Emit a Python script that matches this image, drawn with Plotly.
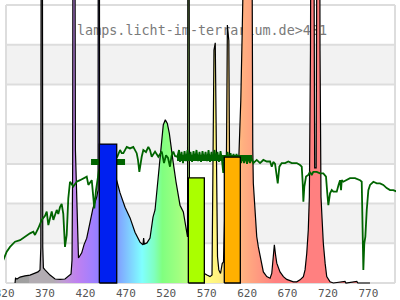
import plotly.graph_objects as go

# ---------------- data ----------------
lamp_wl = [332.9, 333.5, 335.3, 339.1, 345.2, 351.4, 357.6, 361.3, 363.8, 364.8, 365.4, 366.6, 367.2, 368.0,
           370.0, 376.2, 382.4, 388.5, 394.7, 398.4, 402.2, 403.4, 404.2, 404.8, 406.5, 407.6, 408.8, 410.0,
           411.4, 415.4, 418.2, 421.6, 423.8, 425.7, 429.4, 434.0, 435.6, 436.0, 437.0, 437.6, 443.0, 448.0,
           453.0, 457.8, 459.1, 462.8, 469.0, 475.2, 481.3, 487.5, 491.2, 492.0, 492.8, 496.1, 499.9, 503.6,
           506.1, 508.5, 511.0, 512.3, 514.4, 516.3, 518.8, 521.3, 523.8, 525.9, 528.7, 532.1, 534.9, 537.0,
           541.1, 543.2, 545.3, 546.3, 547.0, 548.0, 548.7, 555.6, 565.5, 567.1, 570.4, 574.1, 576.6, 578.3,
           579.0, 580.6, 582.0, 583.4, 585.0, 587.1, 589.2, 590.8, 594.5, 595.6, 597.4, 598.2, 600.1, 605.0,
           608.8, 612.2, 614.0, 615.5, 621.0, 625.5, 626.3, 627.0, 627.7, 629.8, 631.9, 633.9, 636.0, 640.1,
           644.3, 648.4, 650.5, 652.1, 653.7, 655.2, 656.7, 660.7, 664.9, 669.0, 677.2, 681.4, 685.5, 689.6,
           691.7, 693.8, 695.7, 697.0, 697.8, 698.4, 699.3, 702.2, 703.6, 705.4, 706.8, 709.6, 710.2, 710.8,
           711.4, 712.6, 714.3, 716.5, 718.5, 722.6, 726.7, 741.1, 742.3, 755.7, 757.0, 772.0]
lamp_val = [0.00, 0.12, 0.10, 0.15, 0.18, 0.20, 0.25, 0.28, 0.33, 0.90, 12.0, 12.0, 0.90, 0.38,
            0.33, 0.20, 0.10, 0.09, 0.10, 0.16, 0.23, 0.58, 3.00, 14.0, 14.0, 3.35, 2.52, 1.08,
            0.63, 0.76, 0.96, 1.13, 1.34, 1.54, 1.89, 2.17, 2.34, 14.0, 14.0, 2.60, 2.70, 2.72,
            2.68, 2.64, 2.55, 2.27, 1.91, 1.64, 1.28, 1.03, 0.96, 1.13, 0.98, 1.01, 1.13, 1.66,
            1.84, 2.34, 2.80, 3.10, 3.69, 3.98, 4.11, 4.02, 3.77, 3.40, 3.02, 2.54, 2.14, 1.96,
            1.79, 1.51, 1.26, 1.16, 14.0, 14.0, 1.08, 0.58, 0.28, 0.24, 0.20, 0.16, 0.20, 3.35,
            5.87, 6.05, 3.35, 0.66, 0.33, 0.24, 0.49, 0.53, 3.35, 6.50, 6.10, 3.35, 0.83, 1.33,
            2.59, 4.60, 6.40, 12.0, 14.0, 12.0, 4.40, 3.40, 2.51, 1.84, 1.17, 0.91, 0.66, 0.28,
            0.16, 0.12, 0.24, 0.58, 0.96, 0.71, 0.50, 0.28, 0.16, 0.09, 0.03, 0.03, 0.08, 0.16,
            0.33, 0.75, 1.34, 2.17, 3.85, 5.87, 12.0, 12.0, 2.90, 2.90, 12.0, 12.0, 5.87, 3.02,
            2.17, 1.67, 1.00, 0.50, 0.16, 0.03, 0.00, 0.04, 0.00, 0.04, 0.00, 0.00]

sun_wl = [314.3, 318.4, 322.6, 326.7, 332.9, 339.1, 345.2, 351.4, 355.5, 357.6, 361.7, 365.9, 370.0, 372.1,
          374.1, 378.3, 380.3, 384.5, 386.4, 388.5, 390.6, 392.6, 394.7, 396.8, 398.8, 400.9, 405.0, 409.2,
          413.3, 417.4, 421.6, 423.6, 427.8, 431.0, 433.1, 436.8, 443.0, 450.4, 455.4, 459.4, 462.8, 464.9,
          466.9, 471.1, 475.1, 479.2, 483.4, 485.0, 486.7, 489.6, 491.6, 494.9, 497.8, 499.9, 502.0, 506.1,
          510.2, 514.4, 517.2, 519.7, 522.2, 524.6, 526.5, 528.7, 530.8, 533.7, 535.8, 537.0, 538.9, 540.7,
          542.6, 544.4, 546.3, 548.1, 550.0, 551.9, 553.7, 555.6, 557.4, 559.3, 561.1, 563.0, 564.8, 566.7,
          568.6, 570.4, 572.3, 574.1, 576.0, 577.8, 579.6, 581.5, 583.3, 585.2, 587.1, 588.9, 590.5, 592.0,
          593.9, 595.8, 597.6, 599.5, 601.3, 603.2, 605.0, 606.9, 608.8, 610.6, 612.5, 614.3, 616.2, 618.0,
          619.9, 621.8, 623.6, 625.5, 627.7, 631.9, 636.0, 638.1, 640.1, 644.3, 648.4, 650.5, 652.4, 654.6,
          656.6, 657.9, 659.9, 662.8, 667.0, 671.0, 675.2, 681.4, 685.5, 687.6, 688.8, 689.6, 690.8, 692.9,
          695.7, 697.8, 699.9, 701.9, 706.1, 710.2, 714.3, 717.6, 719.2, 720.5, 722.6, 724.7, 726.7, 730.9,
          733.1, 735.0, 736.2, 737.1, 739.0, 743.3, 747.3, 753.5, 759.7, 761.8, 763.0, 763.8, 765.0, 766.3,
          768.0, 770.0, 772.1, 776.2, 780.4, 784.4, 788.5, 792.7, 796.8, 800.9, 805.1, 809.2]
sun_val = [0.37, 0.58, 0.79, 0.91, 1.04, 1.08, 1.17, 1.25, 1.29, 1.21, 1.38, 1.59, 1.69, 1.80,
           1.46, 1.80, 1.59, 1.84, 1.74, 1.91, 1.99, 1.74, 0.91, 1.21, 2.13, 2.55, 2.43, 2.55,
           2.59, 2.64, 2.68, 2.47, 2.59, 1.88, 2.34, 2.85, 3.05, 3.15, 3.22, 3.18, 3.35, 3.27,
           3.27, 3.43, 3.39, 3.43, 3.27, 3.10, 2.80, 3.18, 3.35, 3.30, 3.43, 3.35, 3.18, 3.31,
           3.18, 3.31, 3.02, 3.22, 3.15, 2.93, 3.20, 3.31, 3.20, 3.18, 3.35, 3.05, 3.30, 3.02,
           3.32, 3.07, 3.35, 3.10, 3.30, 3.05, 3.32, 3.10, 3.35, 3.07, 3.30, 3.05, 3.32, 3.10,
           3.30, 3.07, 3.35, 3.05, 3.30, 3.07, 3.35, 3.10, 3.30, 3.05, 3.32, 3.10, 2.77, 3.22,
           3.07, 3.30, 3.05, 3.27, 3.07, 3.25, 3.05, 3.25, 3.05, 3.22, 3.02, 3.22, 3.02, 3.20,
           3.00, 3.17, 3.02, 3.15, 3.02, 3.10, 3.02, 3.06, 3.10, 3.06, 3.06, 2.93, 3.05, 3.00,
           2.68, 2.51, 2.93, 3.02, 3.02, 3.06, 3.02, 3.02, 2.97, 2.93, 2.51, 2.05, 2.43, 2.68,
           2.72, 2.80, 2.72, 2.80, 2.80, 2.76, 2.76, 2.68, 2.26, 1.96, 2.26, 2.34, 2.30, 2.30,
           2.47, 2.59, 2.34, 2.59, 2.55, 2.59, 2.64, 2.64, 2.59, 2.55, 1.50, 0.33, 1.00, 1.17,
           1.84, 2.34, 2.47, 2.55, 2.51, 2.51, 2.47, 2.39, 2.34, 2.34, 2.30, 2.26]

bar_start = [437.2, 547.3, 591.8]
bar_end = [458.7, 567.1, 611.6]
bar_val = [3.50, 2.65, 3.17]
bar_colors = ["#0020f0", "#aaff00", "#ffb000"]

ref_start = [426.9, 533.3]
ref_end = [469.0, 626.1]
ref_val = [3.05, 3.15]

tick_vals = [320, 370, 420, 470, 520, 570, 620, 670, 720, 770]
title_text = "lamps.licht-im-terrarium.de>481"

# wavelength -> colour for the spectrum fill
grad_wl = [320, 350, 351, 380, 395, 410, 430, 445, 460, 475, 490, 505, 515, 535, 555, 570, 585, 600,
           615, 635, 655, 805]
grad_col = ["#9c9c9c", "#a0a0a0", "#b2acb2", "#b2acb2", "#c098d8", "#bf80f0", "#a080ff", "#8080ff",
            "#80a0ff", "#80d0ff", "#80ffff", "#80ffc0", "#80ff80", "#a0ff80", "#c8ff80", "#ffff80",
            "#fff080", "#ffd080", "#ffb080", "#ff9880", "#ff8080", "#ff8080"]

# ---------------- figure ----------------
G0, G1 = grad_wl[0], grad_wl[-1]
colorscale = [[(w - G0) / (G1 - G0), c] for w, c in zip(grad_wl, grad_col)]

X0, X1 = 319.25, 804.2
FL, FR = 321.7, 803.0

fig = go.Figure()

fig.add_trace(go.Scatter(x=[564.2], y=[6.33], mode="text", text=[title_text],
                         textfont=dict(family="DejaVu Sans Mono", size=13.4, color="#7a7a7a"),
                         hoverinfo="skip", showlegend=False))

fig.add_trace(go.Scatter(x=lamp_wl, y=lamp_val, mode="lines",
                         line=dict(color="black", width=1.2),
                         fill="tozeroy",
                         fillgradient=dict(type="horizontal", colorscale=colorscale, start=G0, stop=G1),
                         hoverinfo="skip", showlegend=False))

fig.add_trace(go.Scatter(x=sun_wl, y=sun_val, mode="lines",
                         line=dict(color="#006400", width=1.8),
                         hoverinfo="skip", showlegend=False))

for s, e, v in zip(ref_start, ref_end, ref_val):
    fig.add_trace(go.Scatter(x=[s, e], y=[v, v], mode="lines",
                             line=dict(color="#006400", width=6),
                             hoverinfo="skip", showlegend=False))

for s, e, v, c in zip(bar_start, bar_end, bar_val, bar_colors):
    fig.add_trace(go.Scatter(x=[s, s, e, e, s], y=[0, v, v, 0, 0], mode="lines",
                             fill="toself", fillcolor=c,
                             line=dict(color="black", width=1.3),
                             hoverinfo="skip", showlegend=False))

shapes = []
for k in (1, 3, 5):
    shapes.append(dict(type="rect", xref="x", yref="y", x0=FL, x1=FR, y0=k, y1=k + 1,
                       fillcolor="#f2f2f2", line=dict(width=0), layer="below"))
for k in range(0, 8):
    shapes.append(dict(type="line", xref="x", yref="y", x0=FL, x1=FR, y0=k, y1=k,
                       line=dict(color="#dddddd", width=2), layer="below"))
for xv in (FL, FR):
    shapes.append(dict(type="line", xref="x", yref="y", x0=xv, x1=xv, y0=0, y1=7,
                       line=dict(color="#dddddd", width=2), layer="below"))

fig.update_layout(
    width=400, height=300,
    margin=dict(l=4, r=4, t=0, b=16, pad=0),
    paper_bgcolor="white", plot_bgcolor="white",
    shapes=shapes,
    xaxis=dict(range=[X0, X1], tickvals=tick_vals, ticktext=[str(t) for t in tick_vals],
               showgrid=False, zeroline=False, showline=False, ticks="",
               automargin=False, ticklabeloverflow="allow", ticklabelstandoff=1,
               tickfont=dict(family="DejaVu Sans Mono", size=11, color="#555555")),
    yaxis=dict(range=[-0.025, 7.128], showgrid=False, zeroline=False, showline=False,
               automargin=False, showticklabels=False, ticks=""),
)

fig.write_html("out.html")
